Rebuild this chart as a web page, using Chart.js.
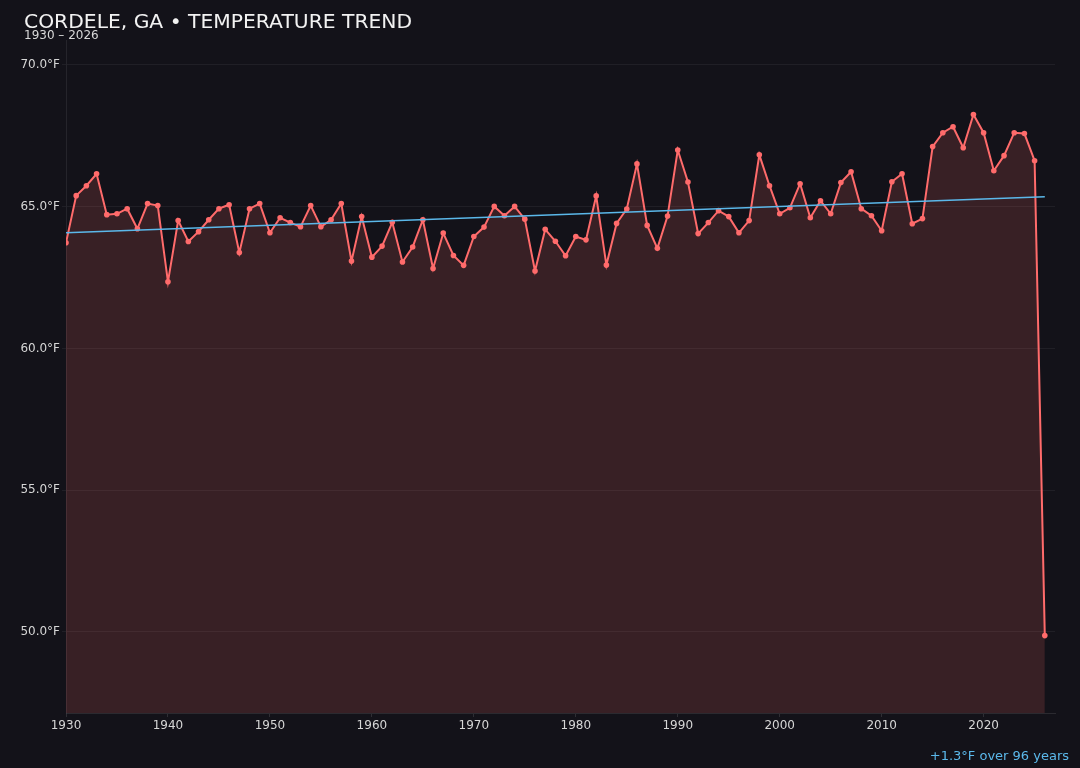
<!DOCTYPE html>
<html>
<head>
<meta charset="utf-8">
<script src="https://cdn.jsdelivr.net/npm/chart.js@4"></script>
<style>
  html, body { margin: 0; padding: 0; background: #131219; overflow: hidden; }
  #trend-chart { display: block; }
</style>
</head>
<body>
<canvas id="trend-chart" width="1080" height="768"></canvas>
<script>
// Chart data
var years = [];
for (var yr = 1930; yr <= 2026; yr++) years.push(yr);

var temps = [
  63.73, 65.39, 65.74, 66.16, 64.72, 64.75, 64.93, 64.22, 65.11, 65.04,
  62.35, 64.51, 63.77, 64.12, 64.54, 64.93, 65.07, 63.38, 64.93, 65.11,
  64.08, 64.61, 64.44, 64.29, 65.04, 64.29, 64.54, 65.11, 63.08, 64.65,
  63.22, 63.61, 64.45, 63.05, 63.58, 64.54, 62.82, 64.07, 63.28, 62.93,
  63.95, 64.28, 65.01, 64.68, 65.01, 64.56, 62.73, 64.20, 63.78, 63.27,
  63.95, 63.83, 65.38, 62.94, 64.41, 64.92, 66.51, 64.34, 63.53, 64.67,
  67.00, 65.87, 64.05, 64.44, 64.86, 64.65, 64.08, 64.51, 66.83, 65.74,
  64.75, 64.96, 65.81, 64.61, 65.21, 64.75, 65.85, 66.23, 64.93, 64.68,
  64.15, 65.88, 66.16, 64.40, 64.58, 67.12, 67.61, 67.82, 67.08, 68.25,
  67.61, 66.27, 66.80, 67.61, 67.58, 66.62, 49.87
];

var yTickValues = [50, 55, 60, 65, 70];
var xTickValues = [1930, 1940, 1950, 1960, 1970, 1980, 1990, 2000, 2010, 2020];

var titleText = "CORDELE, GA \u2022 TEMPERATURE TREND";
var subtitleText = "1930 \u2013 2026";
var footerText = "+1.3\u00B0F over 96 years";

// least squares trend
var n = years.length, mx = 0, my = 0;
years.forEach(function(x, i){ mx += x; my += temps[i]; });
mx /= n; my /= n;
var sxy = 0, sxx = 0;
years.forEach(function(x, i){ sxy += (x - mx) * (temps[i] - my); sxx += (x - mx) * (x - mx); });
var slope = sxy / sxx;
var trendPoints = [years[0], years[n - 1]].map(function(x){
  return {x: x, y: my + slope * (x - mx)};
});

var FONT = "'DejaVu Sans', sans-serif";

// Title, subtitle and footer text
const headerFooter = {
  id: 'headerFooter',
  afterDraw(chart){
    const ctx = chart.ctx;
    ctx.save();
    ctx.textBaseline = 'alphabetic';
    ctx.textAlign = 'left';
    ctx.fillStyle = '#f2f2f2';
    ctx.font = '20.3px ' + FONT;
    ctx.fillText(titleText, 24, 28);
    ctx.fillStyle = '#d8d8d8';
    ctx.font = '12px ' + FONT;
    ctx.fillText(subtitleText, 24, 39);
    ctx.textAlign = 'right';
    ctx.fillStyle = '#5bb8ea';
    ctx.font = '13px ' + FONT;
    ctx.fillText(footerText, 1069, 760);
    ctx.restore();
  }
};

const bgPlugin = {
  id: 'bg',
  beforeDraw(chart){
    const ctx = chart.ctx;
    ctx.save();
    ctx.fillStyle = '#131219';
    ctx.fillRect(0, 0, chart.width, chart.height);
    ctx.restore();
  }
};

var ctx = document.getElementById('trend-chart');

new Chart(ctx, {
  type: 'line',
  data: {
    datasets: [{
      label: 'Annual mean',
      data: years.map(function(x, i){ return {x: x, y: temps[i]}; }),
      borderColor: '#ff6b6b',
      backgroundColor: 'rgba(255, 107, 107, 0.16)',
      pointBackgroundColor: '#ff6b6b',
      pointBorderColor: '#ff6b6b',
      pointRadius: 2.8,
      pointBorderWidth: 0,
      borderWidth: 2,
      fill: 'start',
      tension: 0,
      order: 2
    }, {
      label: 'Trend',
      data: trendPoints,
      borderColor: '#5bb8ea',
      borderWidth: 1.5,
      pointRadius: 0,
      fill: false,
      order: 1
    }]
  },
  options: {
    responsive: false,
    animation: false,
    devicePixelRatio: 1,
    layout: { padding: { top: 40, right: 25, bottom: 0, left: 0 } },
    plugins: {
      legend: { display: false },
      tooltip: { enabled: false }
    },
    scales: {
      x: {
        type: 'linear',
        min: 1930,
        max: 2027,
        afterFit: function(scale){ scale.height = 55; },
        afterBuildTicks: function(scale){ scale.ticks = xTickValues.map(function(v){ return {value: v}; }); },
        ticks: {
          color: '#d6d6d6',
          font: { family: FONT, size: 12 },
          padding: 2,
          maxRotation: 0,
          autoSkip: false,
          callback: function(v){ return String(v); }
        },
        grid: { drawOnChartArea: false, drawTicks: true, tickLength: 4, color: 'rgba(255,255,255,0.12)' },
        border: { color: 'rgba(255,255,255,0.10)' }
      },
      y: {
        type: 'linear',
        min: 47.14,
        max: 70.88,
        afterFit: function(scale){ scale.width = 66; },
        afterBuildTicks: function(scale){ scale.ticks = yTickValues.map(function(v){ return {value: v}; }); },
        ticks: {
          color: '#d6d6d6',
          font: { family: FONT, size: 12 },
          padding: 2,
          callback: function(v){ return v.toFixed(1) + '\u00B0F'; }
        },
        grid: { color: 'rgba(255,255,255,0.06)', tickLength: 4 },
        border: { color: 'rgba(255,255,255,0.08)' }
      }
    }
  },
  plugins: [bgPlugin, headerFooter]
});
</script>
</body>
</html>
